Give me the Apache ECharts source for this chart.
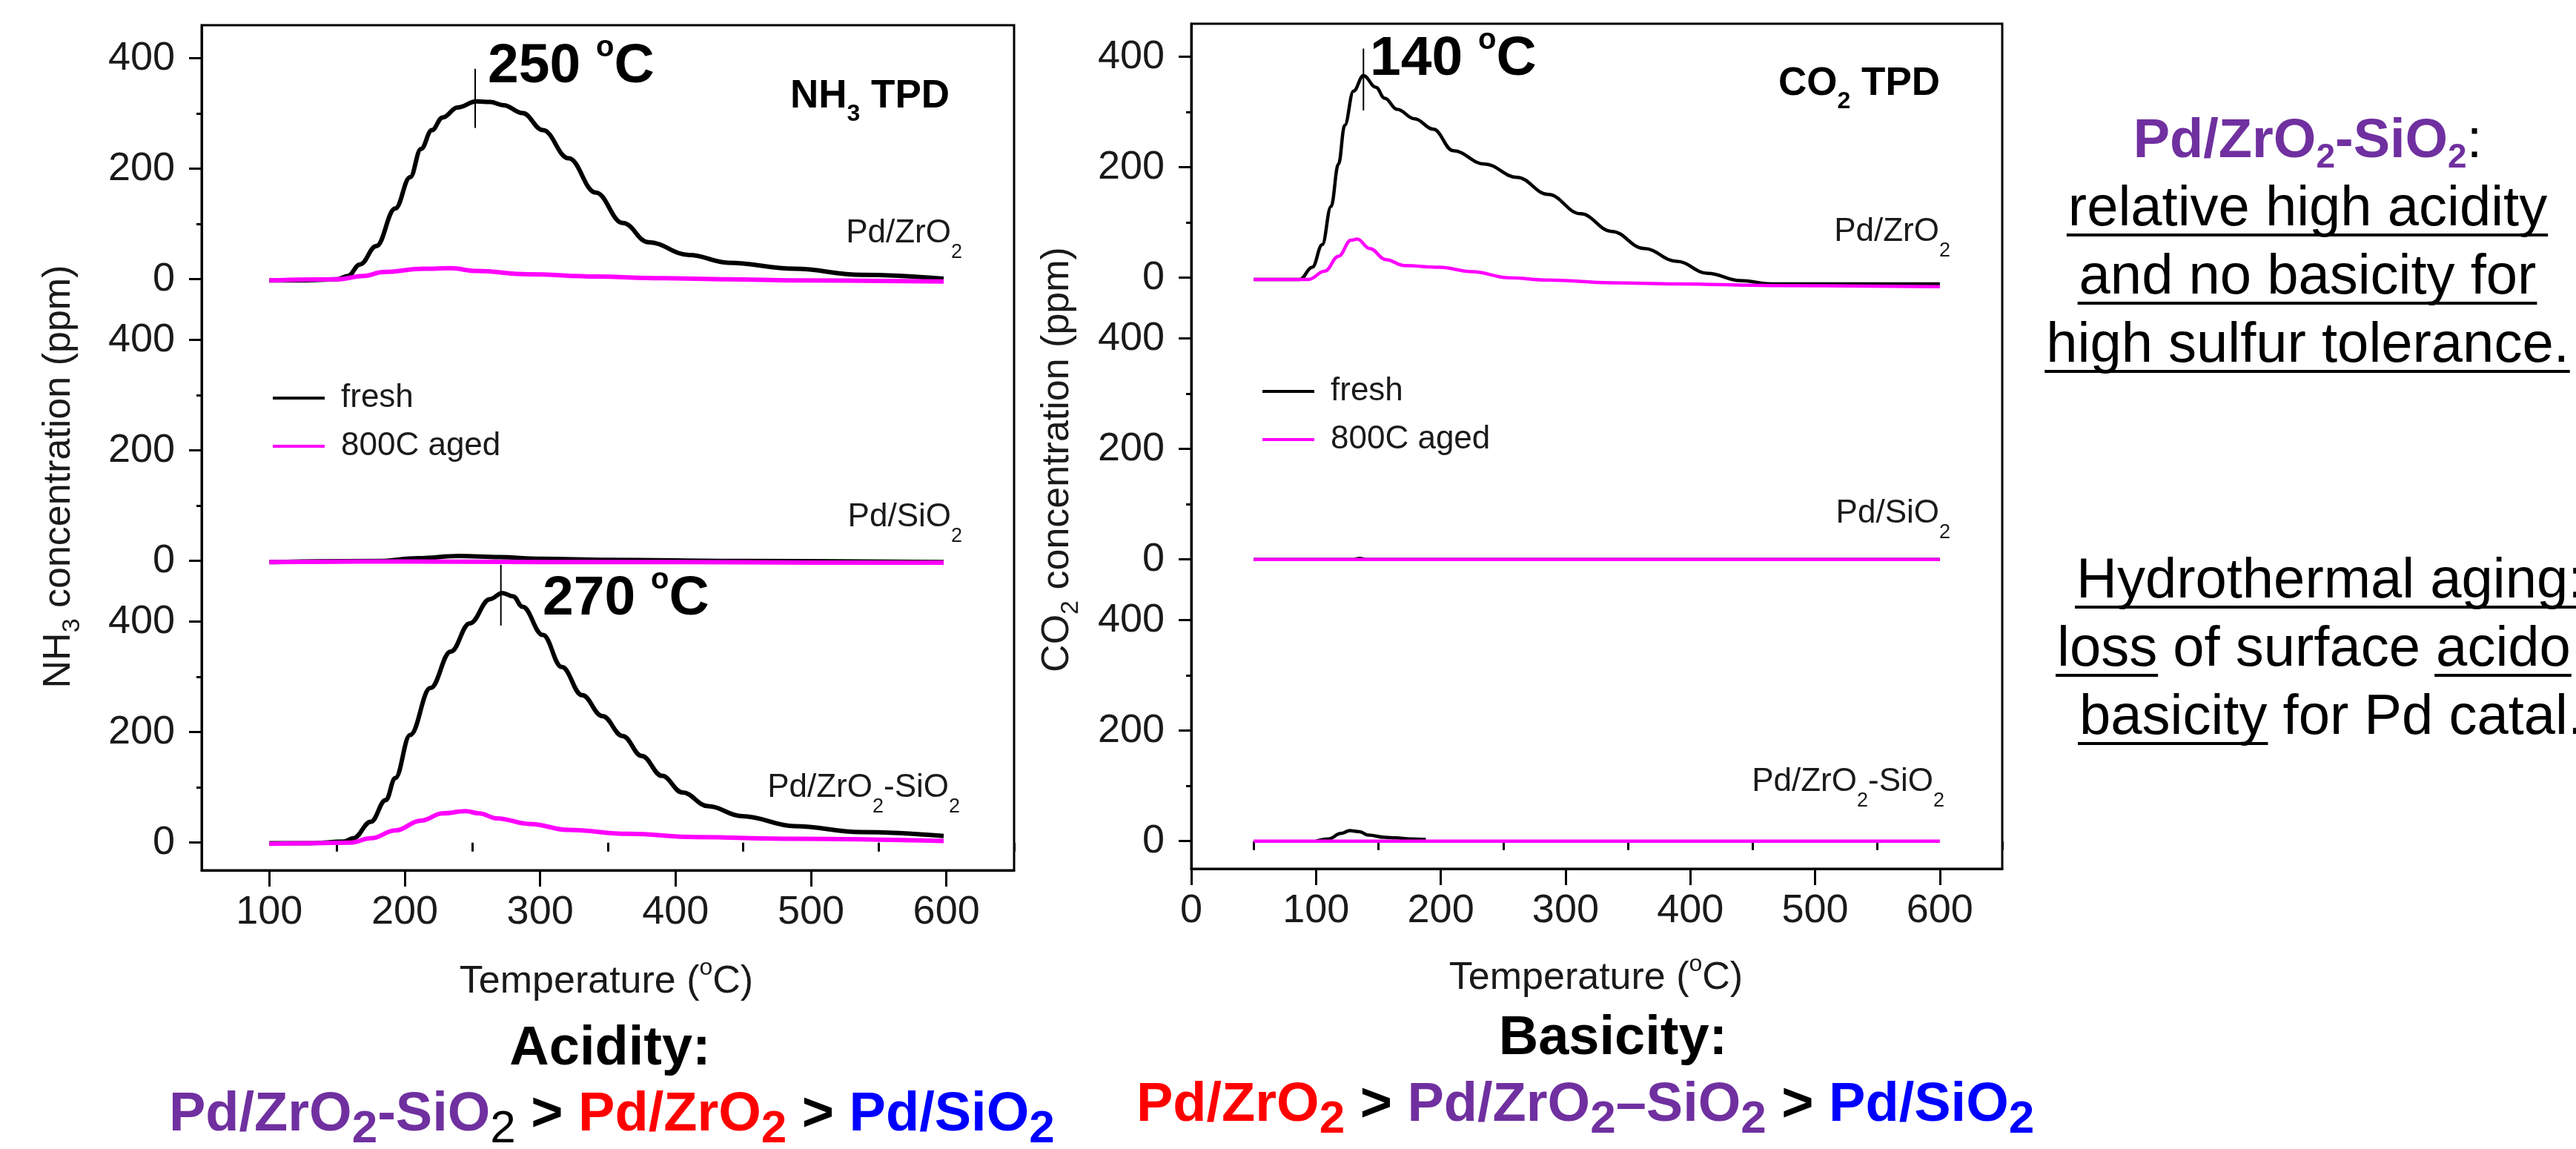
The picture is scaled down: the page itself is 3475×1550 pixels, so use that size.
<!DOCTYPE html>
<html>
<head>
<meta charset="utf-8">
<script src="https://cdn.jsdelivr.net/npm/echarts@6/dist/echarts.min.js"></script>
<style>
  html, body { margin: 0; padding: 0; background: #fff; }
  #chart { width: 3475px; height: 1550px; }
</style>
</head>
<body>
<div id="chart"></div>
<script>
// ---- data: [temperature (°C), concentration (ppm)] ----
// NH3 TPD
const nh3ZrO2Fresh = [[100,-2],[125,-2],[150,0],[158,6],[167,27],[179,60],[193,128],[204,185],[212,236],[220,270],[228,293],[239,311],[253,322],[263,321],[273,315],[287,301],[302,270],[321,219],[341,157],[361,102],[380,67],[410,44],[439,30],[488,19],[537,8],[598,1]];
const nh3ZrO2Aged = [[100,-2],[150,0],[170,6],[184,13],[214,19],[234,20],[253,15],[291,9],[341,5],[389,2],[439,0],[488,-2],[598,-4]];
const nh3SiO2Fresh = [[100,-2],[180,0],[210,5],[240,9],[270,7],[300,4],[350,2],[450,0],[598,-2]];
const nh3SiO2Aged = [[100,-2],[200,-1],[300,-2],[400,-2],[500,-3],[598,-3]];
const nh3ZrSiFresh = [[100,-1],[130,-1],[155,2],[162,8],[175,38],[186,77],[193,117],[204,195],[219,280],[234,346],[248,397],[263,441],[272,452],[280,446],[287,427],[302,376],[316,318],[331,267],[346,229],[361,193],[375,157],[390,121],[405,91],[424,66],[449,48],[488,30],[537,19],[598,12]];
const nh3ZrSiAged = [[100,-2],[130,-1],[160,0],[175,8],[193,22],[212,40],[228,53],[245,57],[255,53],[268,44],[292,34],[321,23],[365,16],[415,10],[488,7],[598,3]];

// CO2 TPD
const co2ZrO2Fresh = [[50,-3],[87,-3],[97,19],[105,60],[112,129],[118,206],[123,276],[130,338],[138,366],[148,345],[155,325],[165,305],[179,288],[194,269],[210,230],[235,206],[261,182],[286,151],[312,116],[337,84],[363,53],[389,30],[414,8],[440,-5],[465,-11],[600,-11]];
const co2ZrO2Aged = [[50,-3],[94,-3],[107,12],[118,39],[128,68],[133,70],[143,53],[156,33],[171,22],[199,19],[225,11],[255,0],[285,-4],[337,-9],[389,-11],[465,-14],[600,-16]];
const co2SiO2Fresh = [[50,0],[130,0],[135,2],[140,0],[600,0]];
const co2SiO2Aged = [[50,0],[600,0]];
const co2ZrSiFresh = [[100,0],[110,4],[120,14],[127,19],[135,17],[142,11],[155,7],[164,6],[175,4],[188,3]];
const co2ZrSiAged = [[50,0],[600,0]];

// peak markers (thin vertical bars)
const nh3ZrO2Peak = [[252,274],[252,381]];
const nh3ZrSiPeak = [[271,393],[271,503]];
const co2ZrO2Peak = [[138,303],[138,415]];

// ticks
const yTicks = [0, 200, 400];
const yMinorTicks = [100, 300];
const nh3XTicks = [100, 200, 300, 400, 500, 600];
const co2XTicks = [0, 100, 200, 300, 400, 500, 600];
const xMinorTicks = [50, 150, 250, 350, 450, 550, 650];
const seriesNames = ['fresh', '800C aged'];

// ---- styling / layout ----
const FONT = 'Liberation Sans';
const INK = '#1a1a1a';
const PURPLE = '#7030A0', RED = '#FF0000', BLUE = '#0000FF';
const FRESH = '#000000', AGED = '#FF00FF';
const PANEL_H = 380;
const K = 0.33; // middle-to-baseline factor

const plots = [
  { left: 272, top: 34, width: 1096, xMin: 50, xMax: 650, xTicks: nh3XTicks, lw: 6,
    panels: [[nh3ZrO2Fresh, nh3ZrO2Aged], [nh3SiO2Fresh, nh3SiO2Aged], [nh3ZrSiFresh, nh3ZrSiAged]],
    marks: [[0, nh3ZrO2Peak], [2, nh3ZrSiPeak]] },
  { left: 1607, top: 32, width: 1094, xMin: 0, xMax: 650, xTicks: co2XTicks, lw: 4.5,
    panels: [[co2ZrO2Fresh, co2ZrO2Aged], [co2SiO2Fresh, co2SiO2Aged], [co2ZrSiFresh, co2ZrSiAged]],
    marks: [[0, co2ZrO2Peak]] }
];

const grid = [], xAxis = [], yAxis = [], series = [];
const tickLine = { color: '#000', width: 3 };

plots.forEach(p => {
  const axes = [];
  for (let k = 0; k < 3; k++) {
    const gi = grid.length;
    grid.push({ left: p.left, top: p.top + k * PANEL_H, width: p.width, height: PANEL_H });
    const bottom = k === 2;
    const xi = xAxis.length;
    xAxis.push({
      type: 'value', gridIndex: gi, min: p.xMin, max: p.xMax, show: bottom, position: 'bottom',
      axisLine: { show: true, onZero: false, lineStyle: tickLine },
      axisTick: { show: true, customValues: p.xTicks, length: 22, lineStyle: tickLine },
      axisLabel: { customValues: p.xTicks, fontSize: 54, fontFamily: FONT, color: INK, margin: 30 },
      splitLine: { show: false }
    });
    if (bottom) {
      xAxis.push({
        type: 'value', gridIndex: gi, min: p.xMin, max: p.xMax, position: 'bottom',
        axisLine: { show: false },
        axisTick: { show: true, customValues: xMinorTicks, length: 12, lineStyle: tickLine },
        axisLabel: { show: false }, splitLine: { show: false }
      });
    }
    const yi = yAxis.length;
    yAxis.push({
      type: 'value', gridIndex: gi, min: -50, max: 460, position: 'left',
      axisLine: { show: true, onZero: false, lineStyle: tickLine },
      axisTick: { show: true, customValues: yTicks, length: 17, lineStyle: tickLine },
      axisLabel: { customValues: yTicks, fontSize: 54, fontFamily: FONT, color: INK, margin: 36 },
      splitLine: { show: false }
    });
    yAxis.push({
      type: 'value', gridIndex: gi, min: -50, max: 460, position: 'left',
      axisLine: { show: false },
      axisTick: { show: true, customValues: yMinorTicks, length: 7, lineStyle: tickLine },
      axisLabel: { show: false }, splitLine: { show: false }
    });
    axes.push({ x: xi, y: yi });
    const pair = p.panels[k];
    [FRESH, AGED].forEach((c, si) => {
      series.push({
        type: 'line', name: seriesNames[si], data: pair[si], xAxisIndex: xi, yAxisIndex: yi,
        symbol: 'none', smooth: 0.4, smoothMonotone: 'x', clip: false,
        lineStyle: { color: c, width: p.lw }, itemStyle: { color: c }, z: 2 + si
      });
    });
  }
  p.marks.forEach(([k, pts]) => {
    series.push({
      type: 'line', name: 'peak', data: pts, xAxisIndex: axes[k].x, yAxisIndex: axes[k].y,
      symbol: 'none', clip: false, lineStyle: { color: '#000', width: 2 }, z: 5
    });
  });
  // outer frame
  const gi = grid.length;
  grid.push({ left: p.left, top: p.top, width: p.width, height: 3 * PANEL_H,
    show: true, borderColor: '#000', borderWidth: 3, backgroundColor: 'transparent' });
  xAxis.push({ type: 'value', gridIndex: gi, show: false, min: 0, max: 1 });
  yAxis.push({ type: 'value', gridIndex: gi, show: false, min: 0, max: 1 });
});

// ---- text helpers ----
function tok(size, weight, fill, lh, va) {
  return { fontFamily: FONT, fontSize: size, fontWeight: weight, fill: fill, lineHeight: lh, verticalAlign: va || 'middle' };
}
// subscript: baseline shifted down by `shift`
function sub(size, weight, fill, L, F, shift) {
  return tok(size, weight, fill, L - 2 * shift + 2 * K * (size - F), 'bottom');
}
// superscript "o": top dropped `d` below the cap top
function sup(size, weight, fill, L, F, d) {
  return tok(size, weight, fill, 2 * (L / 2 - (0.716 - K) * F + d + 0.19 * size), 'top');
}
function text(x, baseline, F, str, rich, align) {
  return { type: 'text', silent: true, z: 100, x: x, y: baseline - K * F,
    style: { text: str, rich: rich, align: align || 'left', verticalAlign: 'middle', fill: INK } };
}

const graphic = [];

// sample labels
const sampleRich = { m: tok(44, 'normal', INK, 80), s: sub(27, 'normal', INK, 80, 44, 18) };
const zr = '{m|Pd/ZrO}{s|2}', si = '{m|Pd/SiO}{s|2}', zs = '{m|Pd/ZrO}{s|2}{m|-SiO}{s|2}';
graphic.push(text(1298, 329, 44, zr, sampleRich, 'right'));
graphic.push(text(1298, 712, 44, si, sampleRich, 'right'));
graphic.push(text(1295, 1077, 44, zs, sampleRich, 'right'));
graphic.push(text(2631, 327, 44, zr, sampleRich, 'right'));
graphic.push(text(2631, 707, 44, si, sampleRich, 'right'));
graphic.push(text(2623, 1069, 44, zs, sampleRich, 'right'));

// TPD titles
const tpdRich = { m: tok(53, 'bold', '#000', 80), s: sub(32, 'bold', '#000', 80, 53, 23) };
graphic.push(text(1066, 148, 53, '{m|NH}{s|3}{m| TPD}', tpdRich));
graphic.push(text(2399, 131, 53, '{m|CO}{s|2}{m| TPD}', tpdRich));

// peak temperatures
const peakRich = { m: tok(75, 'bold', '#000', 90), o: sup(40, 'bold', '#000', 90, 75, 5) };
graphic.push(text(658, 115, 75, '{m|250 }{o|o}{m|C}', peakRich));
graphic.push(text(732, 833, 75, '{m|270 }{o|o}{m|C}', peakRich));
graphic.push(text(1848, 105, 75, '{m|140 }{o|o}{m|C}', peakRich));

// axis titles
const axRich = { m: tok(52, 'normal', INK, 70), s: sub(34, 'normal', INK, 70, 52, 14), o: sup(32, 'normal', INK, 70, 52, -3) };
graphic.push({ type: 'text', silent: true, x: 80, y: 643, rotation: Math.PI / 2,
  style: { text: '{m|NH}{s|3}{m| concentration (ppm)}', rich: axRich, align: 'center', verticalAlign: 'middle' } });
graphic.push({ type: 'text', silent: true, x: 1427, y: 620, rotation: Math.PI / 2,
  style: { text: '{m|CO}{s|2}{m| concentration (ppm)}', rich: axRich, align: 'center', verticalAlign: 'middle' } });
graphic.push(text(818, 1342, 52, '{m|Temperature (}{o|o}{m|C)}', axRich, 'center'));
graphic.push(text(2153, 1337, 52, '{m|Temperature (}{o|o}{m|C)}', axRich, 'center'));

// acidity / basicity ranking
const L = 100, F = 74;
const rankRich = {
  k: tok(F, 'bold', '#000', L), ks: sub(62, 'normal', '#000', L, F, 19),
  p: tok(F, 'bold', PURPLE, L), ps: sub(62, 'bold', PURPLE, L, F, 19),
  r: tok(F, 'bold', RED, L), rs: sub(62, 'bold', RED, L, F, 19),
  b: tok(F, 'bold', BLUE, L), bs: sub(62, 'bold', BLUE, L, F, 19)
};
graphic.push(text(823, 1440, F, '{k|Acidity:}', rankRich, 'center'));
graphic.push(text(228, 1529, F, '{p|Pd/ZrO}{ps|2}{p|-SiO}{ks|2}{k| > }{r|Pd/ZrO}{rs|2}{k| > }{b|Pd/SiO}{bs|2}', rankRich, 'left'));
graphic.push(text(2176, 1426, F, '{k|Basicity:}', rankRich, 'center'));
graphic.push(text(1533, 1516, F, '{r|Pd/ZrO}{rs|2}{k| > }{p|Pd/ZrO}{ps|2}{p|\u2013SiO}{ps|2}{k| > }{b|Pd/SiO}{bs|2}', rankRich, 'left'));

// notes on the right
const noteHead = '{p|Pd/ZrO}{ps|2}{p|-SiO}{ps|2}{c|:}';
const noteUpper = ['relative high acidity', 'and no basicity for', 'high sulfur tolerance.'];
const noteLower = [
  [['Hydrothermal aging:', true]],
  [['loss', true], [' of surface ', false], ['acido', true]],
  [['basicity', true], [' for Pd catal.', false]]
];
const headRich = {
  p: tok(74, 'bold', PURPLE, 90), ps: sub(46, 'bold', PURPLE, 90, 74, 18),
  c: tok(74, 'normal', '#000', 90)
};
graphic.push(text(3113, 216, 74, noteHead, headRich, 'center'));

const NOTE_F = 76;
const meas = document.createElement('canvas').getContext('2d');
meas.font = NOTE_F + 'px "' + FONT + '"';
function noteLine(x0, baseline, parts) {
  const str = parts.map(q => q[0]).join('');
  graphic.push({ type: 'text', silent: true, x: x0, y: baseline - K * NOTE_F,
    style: { text: str, align: 'left', verticalAlign: 'middle', fontSize: NOTE_F, fontFamily: FONT, fill: '#000' } });
  let x = x0;
  parts.forEach(q => {
    const w = meas.measureText(q[0]).width;
    if (q[1]) {
      graphic.push({ type: 'line', silent: true,
        shape: { x1: x - 2, y1: baseline + 9, x2: x + w + 1, y2: baseline + 9 },
        style: { stroke: '#000', lineWidth: 4 } });
    }
    x += w;
  });
}
[308, 400, 492].forEach((b, i) => {
  const w = meas.measureText(noteUpper[i]).width;
  noteLine(3113 - w / 2, b, [[noteUpper[i], true]]);
});
[[2801, 810], [2775, 902], [2805, 994]].forEach((pos, i) => noteLine(pos[0], pos[1], noteLower[i]));

// ---- chart ----
const legendBase = {
  data: seriesNames, orient: 'vertical', icon: 'rect', itemWidth: 70, itemHeight: 4, itemGap: 15,
  selectedMode: false, padding: 5,
  textStyle: { fontSize: 44, fontFamily: FONT, color: INK, lineHeight: 50, padding: [0, 0, 0, 17] }
};

const chart = echarts.init(document.getElementById('chart'), null, { renderer: 'canvas' });
chart.setOption({
  backgroundColor: '#fff',
  animation: false,
  grid: grid,
  xAxis: xAxis,
  yAxis: yAxis,
  legend: [
    Object.assign({}, legendBase, { left: 363, top: 507 }),
    Object.assign({}, legendBase, { left: 1698, top: 498 })
  ],
  graphic: graphic,
  series: series
});
</script>
</body>
</html>
